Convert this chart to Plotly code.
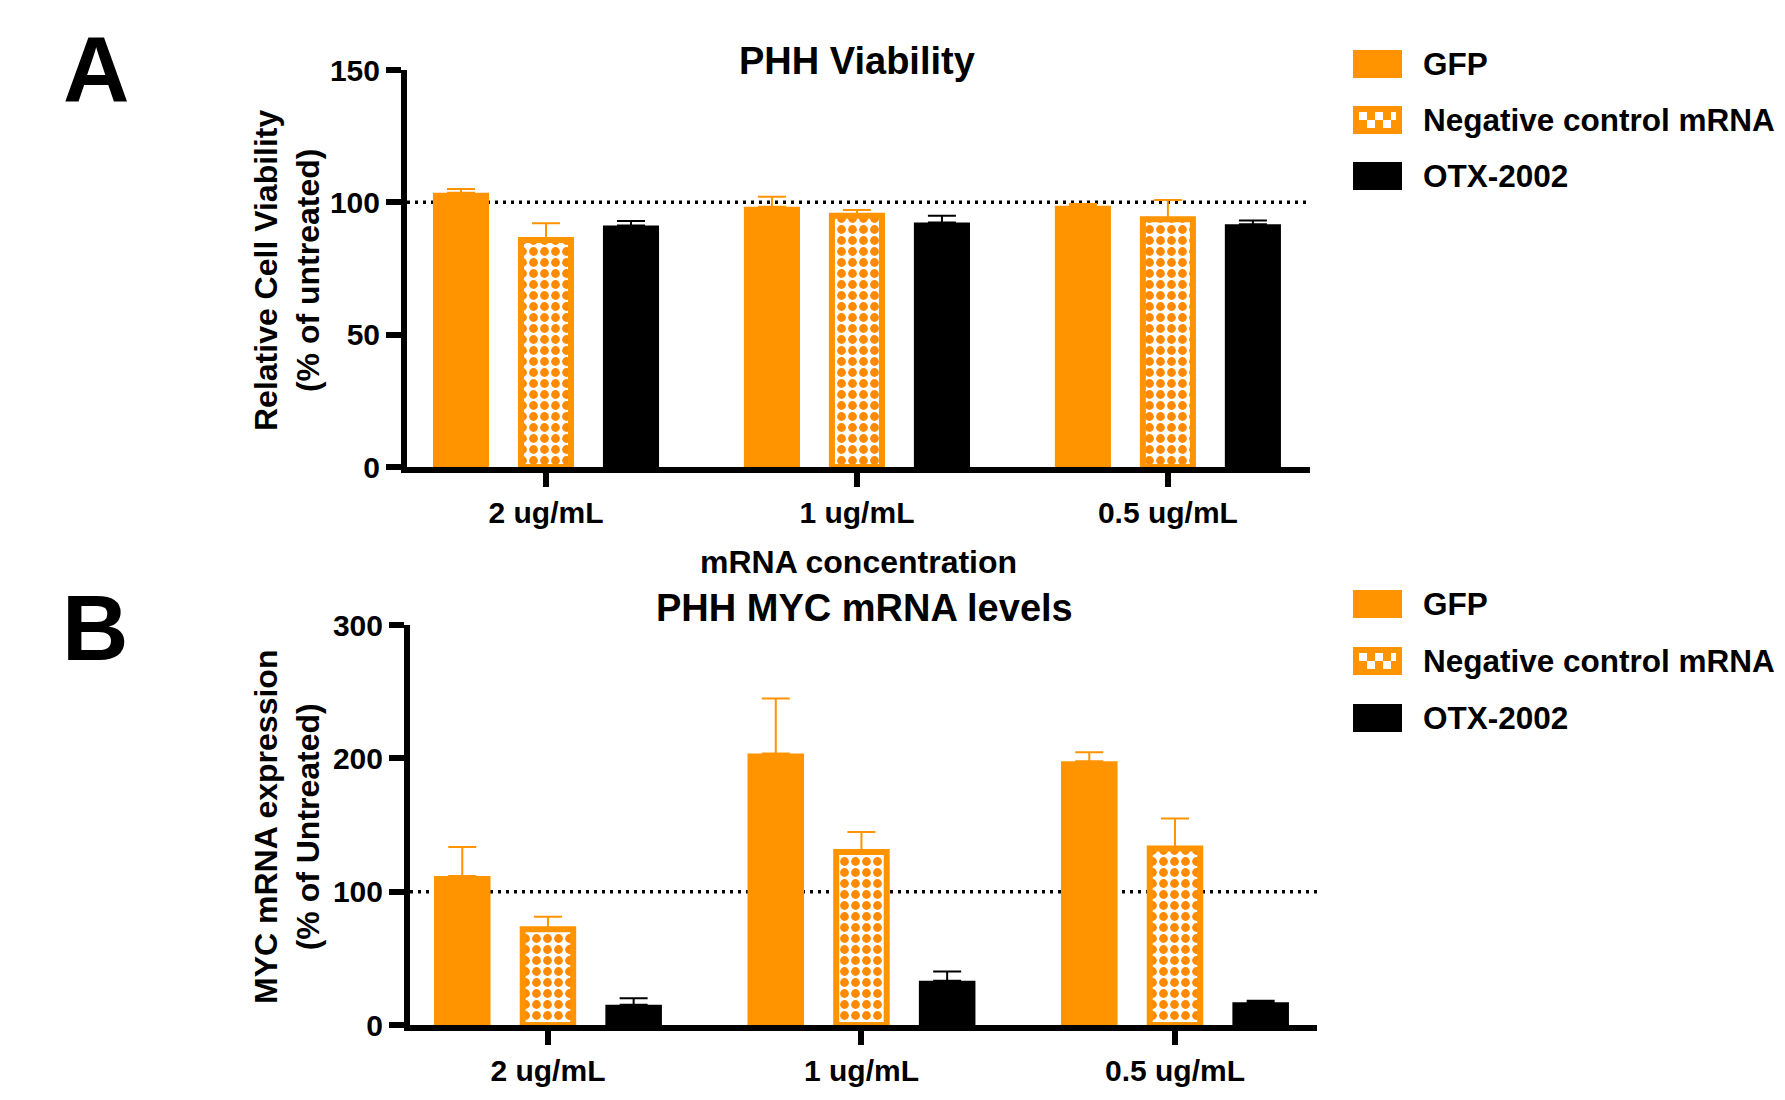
import plotly.graph_objects as go

W, H = 1785, 1100
FONT = "Liberation Sans"
ORANGE = "#FF9300"
CHECK_ORANGE = "#FF8A00"
BLACK = "#000000"

# ---------------- data ----------------
categories = ["2 ug/mL", "1 ug/mL", "0.5 ug/mL"]
series_names = ["GFP", "Negative control mRNA", "OTX-2002"]

# Panel A: PHH Viability (% of untreated)
viab_gfp = [103.6, 98.3, 98.7]
viab_gfp_err = [1.4, 3.8, 0.7]
viab_neg = [85.8, 94.9, 93.6]
viab_neg_err = [6.3, 2.2, 7.3]
viab_otx = [91.2, 92.4, 91.7]
viab_otx_err = [1.7, 2.5, 1.4]

# Panel B: PHH MYC mRNA levels (% of Untreated)
myc_gfp = [111.8, 203.6, 197.8]
myc_gfp_err = [21.7, 41.2, 6.8]
myc_neg = [71.9, 129.7, 132.3]
myc_neg_err = [9.2, 15.0, 22.6]
myc_otx = [15.2, 33.2, 17.0]
myc_otx_err = [4.8, 7.0, 1.2]

reference_level = 100
yticks_a = [0, 50, 100, 150]
yticks_b = [0, 100, 200, 300]


def px_x(v):
    return v / W


def px_y(v):
    return 1 - v / H


def fnt(size):
    return dict(family=FONT, size=size, color="black", weight="bold")


fig = go.Figure()

styles = [
    dict(marker=dict(color=ORANGE, line=dict(width=0)), err=ORANGE, width=None),
    dict(marker=dict(color="white", line=dict(color=ORANGE, width=6),
                     pattern=dict(shape=".", fgcolor=CHECK_ORANGE, bgcolor="white",
                                  size=11, solidity=0.5, fillmode="replace")),
         err=ORANGE, width=0.161),
    dict(marker=dict(color=BLACK, line=dict(width=0)), err=BLACK, width=None),
]


def add_panel(values, errors, xa, ya):
    for name, v, e, st in zip(series_names, values, errors, styles):
        kw = dict(
            x=categories, y=v, name=name, xaxis=xa, yaxis=ya, showlegend=False,
            marker=st["marker"],
            error_y=dict(type="data", array=e, arrayminus=[0] * len(e), symmetric=False,
                         color=st["err"], thickness=2, width=14),
            hoverinfo="x+y+name",
        )
        if st["width"] is not None:
            kw["width"] = st["width"]
        fig.add_trace(go.Bar(**kw))


add_panel([viab_gfp, viab_neg, viab_otx], [viab_gfp_err, viab_neg_err, viab_otx_err], "x", "y")
add_panel([myc_gfp, myc_neg, myc_otx], [myc_gfp_err, myc_neg_err, myc_otx_err], "x2", "y2")

axis_common = dict(
    showline=True, linewidth=6, linecolor="black", mirror=False,
    ticks="outside", tickwidth=6, tickcolor="black",
    showgrid=False, zeroline=False, tickfont=fnt(30), automargin=False, fixedrange=True,
)

fig.update_layout(
    width=W, height=H,
    margin=dict(l=0, r=0, t=0, b=0),
    paper_bgcolor="white", plot_bgcolor="white",
    barmode="group", bargap=0.18, bargroupgap=0.34,
    showlegend=False,
    xaxis=dict(domain=[px_x(407), px_x(1310)], anchor="y", type="category",
               categoryorder="array", categoryarray=categories,
               range=[-0.447, 2.457], ticklen=14, **axis_common),
    yaxis=dict(domain=[px_y(467), px_y(70)], anchor="x", range=[0, 150],
               tickmode="array", tickvals=yticks_a, ticklen=15, **axis_common),
    xaxis2=dict(domain=[px_x(410), px_x(1317)], anchor="y2", type="category",
                categoryorder="array", categoryarray=categories,
                range=[-0.44, 2.453], ticklen=14, **axis_common),
    yaxis2=dict(domain=[px_y(1025), px_y(625)], anchor="x2", range=[0, 300],
                tickmode="array", tickvals=yticks_b, ticklen=15, **axis_common),
)

# dotted reference lines at 100 %
for xr, yr in [("x domain", "y"), ("x2 domain", "y2")]:
    fig.add_shape(type="line", xref=xr, yref=yr, x0=0, x1=1,
                  y0=reference_level, y1=reference_level,
                  line=dict(color="black", width=3.5, dash="3px,5px"), layer="below")

annotations = []


def ann(text, x, y, size, xanchor="center", yanchor="middle", angle=0):
    annotations.append(dict(text=text, x=px_x(x), y=px_y(y), xref="paper", yref="paper",
                            showarrow=False, xanchor=xanchor, yanchor=yanchor,
                            textangle=angle, font=fnt(size)))


# titles
ann("PHH Viability", 857, 61, 38)
ann("PHH MYC mRNA levels", 864, 608, 38)
# x-axis title (panel A)
ann("mRNA concentration", 858, 562, 32)
# y-axis titles
ann("Relative Cell Viability<br>(% of untreated)", 287, 270, 32, angle=-90)
ann("MYC mRNA expression<br>(% of Untreated)", 287, 827, 32, angle=-90)
# panel letters
ann("A", 96, 69, 92)
ann("B", 95, 628, 92)

# custom legends
shapes = []
legend_rows = {"A": [64, 120, 176], "B": [604, 661, 718]}
sw_x0, sw_x1, sw_h = 1353, 1402, 28
for panel, rows in legend_rows.items():
    for i, (name, yc) in enumerate(zip(series_names, rows)):
        color = BLACK if i == 2 else ORANGE
        shapes.append(dict(type="rect", xref="paper", yref="paper",
                           x0=px_x(sw_x0), x1=px_x(sw_x1),
                           y0=px_y(yc + sw_h / 2), y1=px_y(yc - sw_h / 2),
                           fillcolor=color, line=dict(width=0)))
        if i == 1:
            # checker inside the swatch
            cell = 8
            ix0, iy0 = sw_x0 + 6, yc - cell
            for r in range(2):
                for c in range(5):
                    if (r + c) % 2 == 0:
                        cx0 = ix0 + c * cell
                        cx1 = min(cx0 + cell, sw_x1 - 6)
                        if cx1 <= cx0:
                            continue
                        shapes.append(dict(type="rect", xref="paper", yref="paper",
                                           x0=px_x(cx0), x1=px_x(cx1),
                                           y0=px_y(iy0 + (r + 1) * cell), y1=px_y(iy0 + r * cell),
                                           fillcolor="white", line=dict(width=0)))
        ann(name, 1421, yc, 31.5, xanchor="left")

for s in shapes:
    fig.add_shape(**s)
fig.update_layout(annotations=annotations)

fig.write_html("out.html", config={"displayModeBar": False},
               post_script="document.body.style.margin='0px';")
